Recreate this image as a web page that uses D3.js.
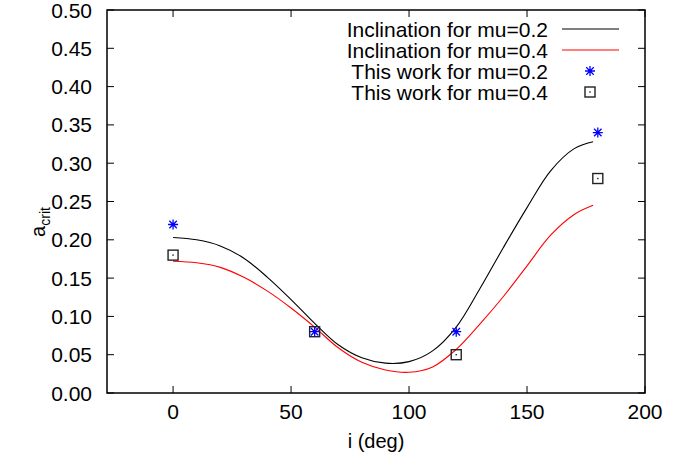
<!DOCTYPE html>
<html><head><meta charset="utf-8">
<script src="https://cdn.jsdelivr.net/npm/d3@7"></script>
<style>
body{margin:0;background:#fff;}
text{font-family:"Liberation Sans",Arial,Helvetica,sans-serif;}
</style></head>
<body><svg id="c" width="686" height="463"></svg>
<script>
const curveI = [0,10,20,30,40,50,60,70,80,90,100,110,120,130,140,150,160,170,178];
const incl02 = [0.203,0.200,0.192,0.176,0.151,0.122,0.091,0.063,0.046,0.039,0.041,0.055,0.086,0.136,0.190,0.242,0.290,0.319,0.328];
const incl04 = [0.172,0.170,0.164,0.151,0.133,0.111,0.086,0.059,0.040,0.030,0.027,0.034,0.057,0.090,0.126,0.166,0.206,0.233,0.245];
const workI = [0,60,120,180];
const work02 = [0.22,0.08,0.08,0.34];
const work04 = [0.18,0.08,0.05,0.28];
const xTicks = [0,50,100,150,200];
const yTicks = [0,0.05,0.10,0.15,0.20,0.25,0.30,0.35,0.40,0.45,0.50];
const legendLabels = ["Inclination for mu=0.2","Inclination for mu=0.4","This work for mu=0.2","This work for mu=0.4"];

const svg = d3.select("#c");
const L=107,R=645,T=10,B=393;
const x = d3.scaleLinear().domain([-28,200]).range([L,R]);
const y = d3.scaleLinear().domain([0,0.5]).range([B,T]);
const FS = 21;

const tl=7;
const g = svg.append("g");
xTicks.forEach(t=>{
  g.append("line").attr("x1",x(t)).attr("x2",x(t)).attr("y1",B).attr("y2",B-tl).attr("stroke","#000");
  g.append("line").attr("x1",x(t)).attr("x2",x(t)).attr("y1",T).attr("y2",T+tl).attr("stroke","#000");
  g.append("text").attr("x",x(t)).attr("y",B+26).attr("text-anchor","middle").attr("font-size",FS).text(d3.format("d")(t));
});
yTicks.forEach(t=>{
  g.append("line").attr("x1",L).attr("x2",L+tl).attr("y1",y(t)).attr("y2",y(t)).attr("stroke","#000");
  g.append("line").attr("x1",R).attr("x2",R-tl).attr("y1",y(t)).attr("y2",y(t)).attr("stroke","#000");
  g.append("text").attr("x",92).attr("y",y(t)+7.5).attr("text-anchor","end").attr("font-size",FS).text(d3.format(".2f")(t));
});
svg.append("rect").attr("x",L).attr("y",T).attr("width",R-L).attr("height",B-T)
  .attr("fill","none").attr("stroke","#000").attr("stroke-width",1.5);

svg.append("text").attr("x",376).attr("y",448).attr("text-anchor","middle").attr("font-size",20).text("i (deg)");
const yl = svg.append("text").attr("transform","translate(45,222) rotate(-90)").attr("text-anchor","middle").attr("font-size",20);
yl.append("tspan").text("a");
yl.append("tspan").attr("font-size",14).attr("dy",5).text("crit");

const line = d3.line().x(d=>x(d[0])).y(d=>y(d[1])).curve(d3.curveCatmullRom.alpha(0.5));
svg.append("path").attr("d",line(d3.zip(curveI,incl02))).attr("fill","none").attr("stroke","#000").attr("stroke-width",1.1);
svg.append("path").attr("d",line(d3.zip(curveI,incl04))).attr("fill","none").attr("stroke","#ff0000").attr("stroke-width",1.1);

function star(sel,cx,cy){
  const s=5;
  const p=`M${cx-s},${cy}H${cx+s}M${cx},${cy-s}V${cy+s}M${cx-s*0.75},${cy-s*0.75}L${cx+s*0.75},${cy+s*0.75}M${cx-s*0.75},${cy+s*0.75}L${cx+s*0.75},${cy-s*0.75}`;
  sel.append("path").attr("d",p).attr("stroke","#0000ff").attr("stroke-width",1.3).attr("fill","none");
}
function square(sel,cx,cy){
  const s=5;
  sel.append("rect").attr("x",cx-s).attr("y",cy-s).attr("width",2*s).attr("height",2*s)
    .attr("fill","none").attr("stroke","#222").attr("stroke-width",1.4);
  sel.append("rect").attr("x",cx-0.7).attr("y",cy-0.7).attr("width",1.4).attr("height",1.4).attr("fill","#222");
}
workI.forEach((i,k)=>{ square(svg,x(i),y(work04[k])); });
workI.forEach((i,k)=>{ star(svg,x(i),y(work02[k])); });

const rows=[29,50,71,92];
legendLabels.forEach((t,k)=>{
  svg.append("text").attr("x",548).attr("y",rows[k]+7.5).attr("text-anchor","end").attr("font-size",FS).text(t);
});
svg.append("line").attr("x1",562).attr("x2",619).attr("y1",rows[0]).attr("y2",rows[0]).attr("stroke","#000").attr("stroke-width",1.1);
svg.append("line").attr("x1",562).attr("x2",619).attr("y1",rows[1]).attr("y2",rows[1]).attr("stroke","#ff0000").attr("stroke-width",1.1);
star(svg,590,rows[2]);
square(svg,590,rows[3]);
</script></body></html>
